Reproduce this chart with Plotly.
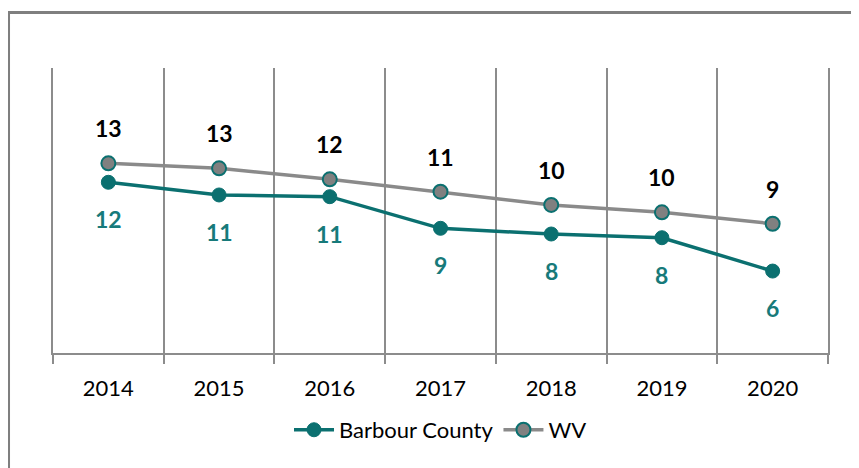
import plotly.graph_objects as go

years = ["2014", "2015", "2016", "2017", "2018", "2019", "2020"]
barbour = [11.98, 11.09, 10.97, 8.75, 8.35, 8.09, 5.75]
wv = [13.31, 12.96, 12.19, 11.32, 10.39, 9.87, 9.07]

TEAL = "#0B7070"
GRAY = "#8A8A8A"
GRID = "#8C8C8C"
FONT = "Lato"

xpos = list(range(len(years)))

fig = go.Figure()
fig.add_trace(go.Scatter(
    x=xpos, y=barbour, name="Barbour County", mode="lines+markers",
    line=dict(color=TEAL, width=3.5),
    marker=dict(color=TEAL, size=14, line=dict(color=TEAL, width=1)),
))
fig.add_trace(go.Scatter(
    x=xpos, y=wv, name="WV", mode="lines+markers",
    line=dict(color=GRAY, width=3.5),
    marker=dict(color="#808080", size=14, line=dict(color=TEAL, width=2)),
))

annotations = []
for xv, yv in zip(xpos, wv):
    annotations.append(dict(x=xv, y=yv, xref="x", yref="y", text=f"{round(yv)}",
                            showarrow=False, yshift=35,
                            font=dict(family=FONT, size=23, color="#000000", weight="bold")))
for xv, yv in zip(xpos, barbour):
    annotations.append(dict(x=xv, y=yv, xref="x", yref="y", text=f"{round(yv)}",
                            showarrow=False, yshift=-37,
                            font=dict(family=FONT, size=23, color="#177A7A", weight="bold")))

fig.update_layout(
    width=851, height=460,
    margin=dict(l=45, r=31, t=60, b=115),
    paper_bgcolor="white", plot_bgcolor="white",
    font=dict(family=FONT, color="#000000"),
    showlegend=True,
    legend=dict(orientation="h", x=0.5, xanchor="center", y=-0.27, yanchor="middle",
                font=dict(family=FONT, size=22, color="#000000"),
                itemwidth=40, tracegroupgap=0),
    annotations=annotations,
    shapes=[dict(type="rect", xref="paper", yref="paper",
                 x0=-0.0574, x1=1.2, y0=-0.6, y1=1.1947,
                 line=dict(color="#7F7F7F", width=3), layer="above")],
)
fig.update_xaxes(
    range=[-0.5, len(years) - 0.5], tickmode="array", tickvals=xpos, ticktext=years,
    showgrid=False, zeroline=False,
    showline=True, linecolor=GRID, linewidth=1.5,
    ticks="", ticklen=0,
    tickfont=dict(family=FONT, size=22, color="#000000"),
    ticklabelstandoff=15,
    minor=dict(tickmode="linear", tick0=-0.5, dtick=1, showgrid=True, gridcolor=GRID,
               gridwidth=1.5, ticks="outside", ticklen=9, tickcolor=GRID, tickwidth=1.5),
)
fig.update_yaxes(
    range=[0, 20], showgrid=False, zeroline=False, showticklabels=False,
    showline=True, mirror=True, linecolor=GRID, linewidth=1.5,
)

fig.write_html("out.html")
